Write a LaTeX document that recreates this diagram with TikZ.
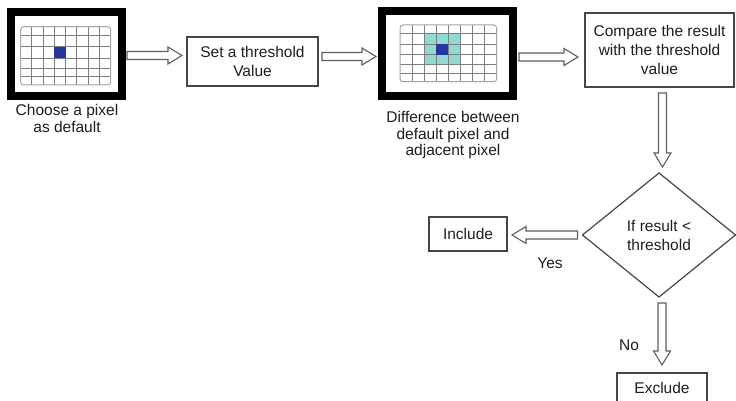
\documentclass[tikz,border=0pt]{standalone}
\usepackage{fontspec}
\setmainfont{Liberation Sans}
\usetikzlibrary{shapes.geometric,calc}

\definecolor{pixblue}{RGB}{40,52,160}
\definecolor{pixcyan}{RGB}{145,218,212}
\definecolor{gridgrey}{RGB}{125,125,125}
\definecolor{linegrey}{RGB}{70,70,70}
\definecolor{arrowgrey}{RGB}{95,95,95}
\definecolor{txt}{RGB}{30,30,30}

\tikzset{
  box/.style={draw=linegrey, line width=1.2pt, fill=white, align=center,
    inner sep=0pt, outer sep=0pt, text=txt,
    font=\fontsize{15.5}{19}\selectfont},
  decision/.style={box, diamond},
  imgframe/.style={draw=black, line width=8pt, fill=white, inner sep=0pt, outer sep=0pt},
  caption/.style={align=center, inner sep=0pt, outer sep=0pt, text=txt,
    font=\fontsize{15.5}{16.5}\selectfont},
  hollow/.style={draw=arrowgrey, line width=1.1pt, fill=white, line join=miter},
  gridline/.style={draw=gridgrey, line width=1pt},
  gridedge/.style={draw=gridgrey!70, line width=1pt, rounded corners=3pt},
}

% hollow block arrows: shaft from #1, tip at #2
\newcommand\rightblock[2]{\draw[hollow] let \p1=(#1), \p2=(#2) in
  (\x1,\y1+4pt) -- (\x2-14pt,\y1+4pt) -- (\x2-14pt,\y1+8.5pt) -- (\x2,\y1)
  -- (\x2-14pt,\y1-8.5pt) -- (\x2-14pt,\y1-4pt) -- (\x1,\y1-4pt) -- cycle;}
\newcommand\leftblock[2]{\draw[hollow] let \p1=(#1), \p2=(#2) in
  (\x1,\y1+4pt) -- (\x2+14pt,\y1+4pt) -- (\x2+14pt,\y1+8.5pt) -- (\x2,\y1)
  -- (\x2+14pt,\y1-8.5pt) -- (\x2+14pt,\y1-4pt) -- (\x1,\y1-4pt) -- cycle;}
\newcommand\downblock[2]{\draw[hollow] let \p1=(#1), \p2=(#2) in
  (\x1-4pt,\y1) -- (\x1-4pt,\y2+14pt) -- (\x1-8.5pt,\y2+14pt) -- (\x1,\y2)
  -- (\x1+8.5pt,\y2+14pt) -- (\x1+4pt,\y2+14pt) -- (\x1+4pt,\y1) -- cycle;}

\begin{document}
\begin{tikzpicture}[x=1pt, y=-1pt]
  \fill[white] (0,0) rectangle (736,401);
  \useasboundingbox (0,0) rectangle (736,401);

  % ---- pixel grid with the chosen pixel ----
  \node[imgframe, minimum width=111pt, minimum height=84pt] (img1) at (66.5,54) {};
  \foreach \c in {1,...,7} \draw[gridline] ({20.7+\c*11.25},26.7) -- ({20.7+\c*11.25},85);
  \foreach \r in {35.7,46.7,58.3,68.3,76.7} \draw[gridline] (20.7,\r) -- (110.7,\r);
  \draw[gridedge] (20.7,26.7) rectangle (110.7,85);
  \fill[pixblue] (54.45,46.7) rectangle (65.7,58.3);
  \node[caption, anchor=north] (cap1) at (67,104.5) {Choose a pixel\\as default};

  % ---- threshold box ----
  \node[box, minimum width=131pt, minimum height=49pt] (set) at (252.5,61.5) {Set a threshold\\Value};

  % ---- pixel grid with neighbourhood ----
  \node[imgframe, minimum width=131pt, minimum height=85pt] (img2) at (447.5,53.5) {};
  \fill[pixcyan] (424.2,33.3) rectangle (460.5,65);
  \foreach \c in {1,...,7} \draw[gridline] ({400+\c*12.09},25) -- ({400+\c*12.09},81.7);
  \foreach \r in {33.3,44.3,55,65,73.3} \draw[gridline] (400,\r) -- (496.7,\r);
  \draw[gridedge] (400,25) rectangle (496.7,81.7);
  \fill[pixblue] (436.3,44.3) rectangle (448.4,55);
  \node[caption, anchor=north] (cap2) at (453,111.5) {Difference between\\default pixel and\\adjacent pixel};

  % ---- comparison and decision ----
  \node[box, minimum width=149pt, minimum height=74pt] (cmp) at (659.5,50)
    {Compare the result\\with the threshold\\value};
  \node[decision, minimum width=153pt, minimum height=124pt] (dia) at (659,235)
    {If result <\\threshold};
  \node[box, minimum width=78pt, minimum height=34pt] (incl) at (468,234) {Include};
  \node[box, minimum width=90pt, minimum height=30pt] (excl) at (662,388) {Exclude};
  \node[caption] (yes) at (550,263) {Yes};
  \node[caption] (no) at (629,345) {No};

  % ---- connectors ----
  \coordinate (a1s) at ($(img1.east)+(5,1.5)$);
  \coordinate (a1e) at ($(set.west)+(-5,0)$);
  \rightblock{a1s}{a1e}
  \coordinate (a2s) at ($(set.east)+(4,-5)$);
  \coordinate (a2e) at ($(img2.west)+(-6,0)$);
  \rightblock{a2s}{a2e}
  \coordinate (a3s) at ($(img2.east)+(6,3.5)$);
  \coordinate (a3e) at ($(cmp.west)+(-7,0)$);
  \rightblock{a3s}{a3e}
  \coordinate (a4s) at ($(cmp.south)+(3,6)$);
  \coordinate (a4e) at ($(dia.north)+(0,-6)$);
  \downblock{a4s}{a4e}
  \coordinate (a5s) at ($(dia.west)+(-5,0)$);
  \coordinate (a5e) at ($(incl.east)+(5,0)$);
  \leftblock{a5s}{a5e}
  \coordinate (a6s) at ($(dia.south)+(3,6)$);
  \coordinate (a6e) at ($(excl.north)+(0,-8)$);
  \downblock{a6s}{a6e}
\end{tikzpicture}
\end{document}
